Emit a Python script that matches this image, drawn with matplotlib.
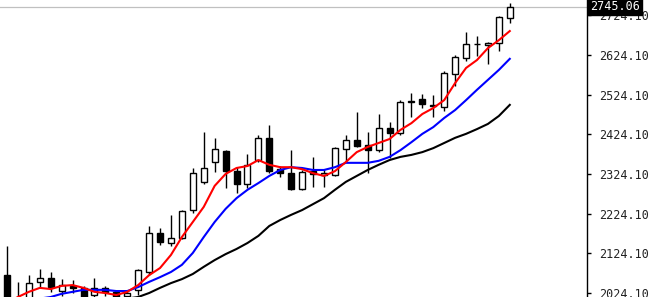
import matplotlib
matplotlib.use("Agg")
import matplotlib.pyplot as plt
import numpy as np

# ---- data ----
opens = [2069, 2012, 2012, 2052, 2062, 2029, 2042, 2037, 2019, 2037, 2027, 2016,
         2032, 2077, 2175, 2150, 2163, 2233, 2304, 2354, 2382, 2331, 2298, 2359,
         2415, 2336, 2326, 2286, 2331, 2321, 2321, 2387, 2409, 2397, 2384, 2440,
         2427, 2505, 2513, 2498, 2493, 2576, 2616, 2651, 2648, 2654, 2717]
highs = [2142, 2051, 2069, 2085, 2077, 2059, 2057, 2042, 2062, 2042, 2032, 2032,
         2085, 2193, 2188, 2221, 2233, 2339, 2430, 2415, 2385, 2341, 2374, 2422,
         2447, 2344, 2384, 2334, 2367, 2336, 2392, 2422, 2480, 2430, 2475, 2455,
         2510, 2528, 2525, 2523, 2583, 2624, 2682, 2671, 2656, 2722, 2755]
lows = [1990, 1995, 2005, 2037, 2027, 2016, 2024, 2000, 2012, 2016, 2005, 2008,
        2019, 2070, 2145, 2143, 2160, 2226, 2298, 2329, 2289, 2276, 2289, 2354,
        2326, 2316, 2283, 2283, 2291, 2291, 2319, 2354, 2392, 2326, 2379, 2364,
        2422, 2468, 2490, 2468, 2483, 2546, 2608, 2621, 2601, 2634, 2704]
closes = [2000, 2005, 2049, 2062, 2039, 2044, 2037, 2010, 2037, 2027, 2014, 2024,
          2082, 2175, 2153, 2163, 2231, 2326, 2339, 2387, 2331, 2298, 2346, 2415,
          2331, 2326, 2286, 2329, 2324, 2326, 2389, 2409, 2394, 2384, 2440, 2427,
          2505, 2507, 2500, 2495, 2578, 2619, 2651, 2652, 2654, 2719, 2745.06]

ma_red = [2000, 2014, 2027, 2037, 2034, 2042, 2044, 2037, 2027, 2024, 2019, 2027,
          2044, 2069, 2087, 2120, 2165, 2203, 2241, 2294, 2324, 2339, 2344, 2359,
          2347, 2341, 2341, 2336, 2326, 2319, 2331, 2354, 2379, 2392, 2402, 2412,
          2435, 2452, 2475, 2490, 2510, 2553, 2591, 2611, 2641, 2661, 2684]
ma_blue = [1995, 2000, 2005, 2010, 2014, 2022, 2027, 2032, 2032, 2032, 2029, 2029,
           2039, 2052, 2064, 2077, 2095, 2125, 2165, 2203, 2236, 2263, 2284, 2301,
           2319, 2334, 2341, 2339, 2334, 2334, 2341, 2352, 2352, 2352, 2357, 2367,
           2384, 2404, 2425, 2442, 2465, 2485, 2510, 2536, 2561, 2586, 2614]
ma_black = [1960, 1965, 1970, 1975, 1980, 1985, 1990, 1994, 1998, 2002, 2006, 2010,
            2014, 2024, 2037, 2049, 2059, 2072, 2090, 2107, 2122, 2135, 2150, 2168,
            2193, 2208, 2221, 2233, 2248, 2263, 2284, 2304, 2319, 2334, 2347, 2359,
            2367, 2372, 2379, 2389, 2402, 2415, 2425, 2437, 2450, 2470, 2498]

ytick_values = [2024.10, 2124.10, 2224.10, 2324.10, 2424.10, 2524.10, 2624.10, 2724.10]
last_price = 2745.06

# ---- figure ----
W, H = 661, 297
fig = plt.figure(figsize=(W / 100, H / 100), dpi=100)
ax = fig.add_axes([0, 0, 587 / W, 1])

x = np.arange(len(opens))
o = np.array(opens, float)
c = np.array(closes, float)
hi = np.array(highs, float)
lo = np.array(lows, float)
up = c >= o

# wicks
ax.vlines(x, lo, hi, color="black", linewidth=1.0, zorder=2)
# bodies
bottoms = np.minimum(o, c)
heights = np.abs(c - o)
ax.bar(x[up], heights[up], bottom=bottoms[up], width=0.55,
       facecolor="white", edgecolor="black", linewidth=1.0, zorder=3)
ax.bar(x[~up], heights[~up], bottom=bottoms[~up], width=0.55,
       facecolor="black", edgecolor="black", linewidth=1.0, zorder=3)

# moving averages
ax.plot(x, ma_black, color="black", linewidth=1.5, zorder=4)
ax.plot(x, ma_blue, color="#0000ff", linewidth=1.5, zorder=5)
ax.plot(x, ma_red, color="#ff0000", linewidth=1.5, zorder=6)

# current price line
ax.axhline(last_price, color="#c0c0c0", linewidth=0.9, zorder=1)

ax.set_xlim(-7 / 10.93, 580 / 10.93)
ax.set_ylim(2014.0, 2762.2)

for s in ["left", "top", "bottom"]:
    ax.spines[s].set_visible(False)
ax.spines["right"].set_color("black")
ax.spines["right"].set_linewidth(1.0)

ax.set_xticks([])
ax.yaxis.tick_right()
ax.set_yticks(ytick_values)
ax.set_yticklabels([f"{v:.2f}" for v in ytick_values])
ax.tick_params(axis="y", direction="out", length=3, width=1, pad=6,
               labelsize=8.5, colors="black")
for lbl in ax.get_yticklabels():
    lbl.set_family("DejaVu Sans Mono")
    lbl.set_color("#222222")

ax.text(1.005, last_price, f"{last_price:.2f}", transform=ax.get_yaxis_transform(),
        ha="left", va="center", color="white", fontsize=8.5,
        family="DejaVu Sans Mono", zorder=10, clip_on=False,
        bbox=dict(boxstyle="square,pad=0.15", facecolor="black", edgecolor="black"))

fig.savefig("out.png", dpi=100)
